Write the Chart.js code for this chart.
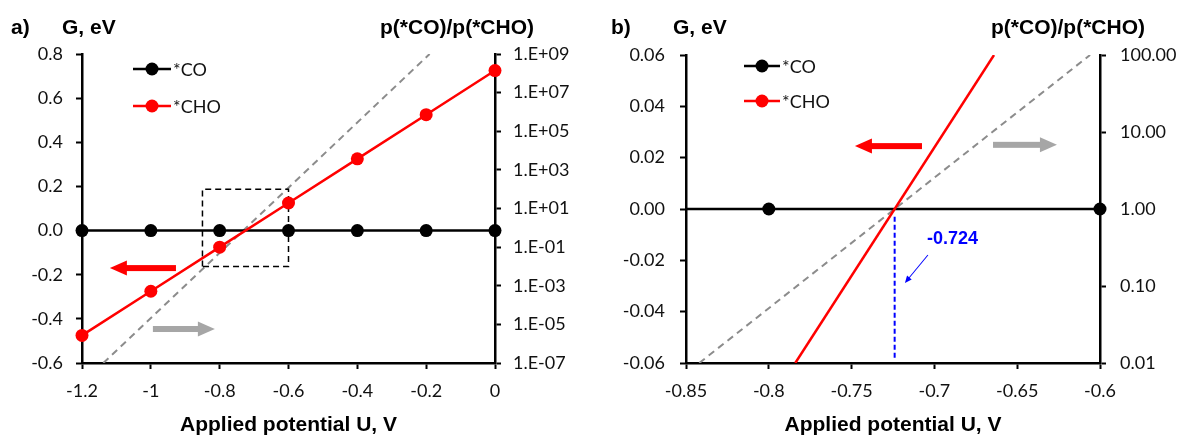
<!DOCTYPE html>
<html>
<head>
<meta charset="utf-8">
<script src="https://cdn.jsdelivr.net/npm/chart.js@4.4.1/dist/chart.umd.min.js"></script>
<style>
  html, body { margin: 0; padding: 0; background: #ffffff; }
  #wrap { display: flex; width: 1180px; height: 436px; }
  canvas { display: block; }
</style>
</head>
<body>
<div id="wrap">
  <canvas id="panelA" width="590" height="436"></canvas>
  <canvas id="panelB" width="590" height="436"></canvas>
</div>
<script>
// ---------- panel a: full potential window ----------
const potentialA = [-1.2, -1.0, -0.8, -0.6, -0.4, -0.2, 0];
const gCO_A = [0, 0, 0, 0, 0, 0, 0];
const gCHO_A = [-0.475, -0.275, -0.075, 0.125, 0.325, 0.525, 0.725];
// population ratio p(*CO)/p(*CHO), straight on the log axis
const ratioPotentialA = [-1.138, -0.19];
const ratioA = [1e-7, 1e9];
// zoomed window shown in panel b (potential range x ratio range)
const boxPotential = [-0.85, -0.85, -0.6, -0.6, -0.85];
const boxRatio = [0.01, 100, 100, 0.01, 0.01];

const xTicksA = [-1.2, -1, -0.8, -0.6, -0.4, -0.2, 0];
const xLabelsA = ['-1.2', '-1', '-0.8', '-0.6', '-0.4', '-0.2', '0'];
const gTicksA = [-0.6, -0.4, -0.2, 0, 0.2, 0.4, 0.6, 0.8];
const gLabelsA = ['-0.6', '-0.4', '-0.2', '0.0', '0.2', '0.4', '0.6', '0.8'];
const ratioTicksA = [1e-7, 1e-5, 1e-3, 1e-1, 1e1, 1e3, 1e5, 1e7, 1e9];
const ratioLabelsA = ['1.E-07', '1.E-05', '1.E-03', '1.E-01', '1.E+01', '1.E+03', '1.E+05', '1.E+07', '1.E+09'];

// ---------- panel b: zoom around the crossing ----------
const potentialB_CO = [-0.85, -0.8, -0.6];
const gCO_B = [0, 0, 0];
const markerB_CO = [0, 1, 1];
const potentialB_CHO = [-0.784, -0.664];
const gCHO_B = [-0.06, 0.06];
const ratioPotentialB = [-0.842, -0.606];
const ratioB = [0.01, 100];
const crossingU = -0.724;
const crossingG = [-0.003, -0.058];

const xTicksB = [-0.85, -0.8, -0.75, -0.7, -0.65, -0.6];
const xLabelsB = ['-0.85', '-0.8', '-0.75', '-0.7', '-0.65', '-0.6'];
const gTicksB = [-0.06, -0.04, -0.02, 0, 0.02, 0.04, 0.06];
const gLabelsB = ['-0.06', '-0.04', '-0.02', '0.00', '0.02', '0.04', '0.06'];
const ratioTicksB = [0.01, 0.1, 1, 10, 100];
const ratioLabelsB = ['0.01', '0.10', '1.00', '10.00', '100.00'];

// ---------- styling ----------
const RED = '#ff0000';
const BLACK = '#000000';
const GREY = '#8c8c8c';
const ARROW_GREY = '#a6a6a6';
const BLUE = '#0000ff';
const TICK_FONT = { family: 'Lato, Carlito, "Liberation Sans", sans-serif', size: 18 };
const TITLE_FONT = 'bold 21px "Liberation Sans", Arial, sans-serif';
const LEGEND_FONT = '18px Lato, Carlito, "Liberation Sans", sans-serif';
const DOT = 6.5;

const pts = (xs, ys) => xs.map((x, i) => ({ x, y: ys[i] }));

function axisCommon(labels, ticks, pad, fitKey, fitVal) {
  return {
    afterBuildTicks: s => { s.ticks = ticks.map(v => ({ value: v })); },
    ticks: {
      callback: (v, i) => labels[i],
      font: TICK_FONT, color: '#111111', padding: pad,
      autoSkip: false, maxRotation: 0, minRotation: 0
    },
    grid: { display: true, drawOnChartArea: false, drawTicks: true, tickLength: 6, tickWidth: 2, color: BLACK },
    border: { display: true, color: BLACK, width: 2.5 },
    afterFit: s => { s[fitKey] = fitVal; }
  };
}

function arrow(ctx, x1, y1, x2, y2, shaft, headLen, headW, color) {
  const ang = Math.atan2(y2 - y1, x2 - x1);
  const len = Math.hypot(x2 - x1, y2 - y1);
  ctx.save();
  ctx.translate(x1, y1);
  ctx.rotate(ang);
  ctx.fillStyle = color;
  ctx.strokeStyle = color;
  if (shaft >= 2) {
    ctx.fillRect(0, -shaft / 2, len - headLen + 1, shaft);
  } else {
    ctx.lineWidth = shaft;
    ctx.beginPath(); ctx.moveTo(0, 0); ctx.lineTo(len - headLen + 1, 0); ctx.stroke();
  }
  ctx.beginPath();
  ctx.moveTo(len, 0);
  ctx.lineTo(len - headLen, -headW / 2);
  ctx.lineTo(len - headLen, headW / 2);
  ctx.closePath();
  ctx.fill();
  ctx.restore();
}

function legendEntry(ctx, x1, x2, y, color, text) {
  ctx.save();
  ctx.strokeStyle = color; ctx.fillStyle = color; ctx.lineWidth = 2.5;
  ctx.beginPath(); ctx.moveTo(x1, y); ctx.lineTo(x2, y); ctx.stroke();
  ctx.beginPath(); ctx.arc((x1 + x2) / 2, y, DOT, 0, Math.PI * 2); ctx.fill();
  ctx.fillStyle = '#111111';
  ctx.font = LEGEND_FONT; ctx.textAlign = 'left'; ctx.textBaseline = 'middle';
  ctx.fillText(text, x2 + 2, y + 1);
  ctx.restore();
}

function titles(chart, tag, gTitleX, ratioTitleX) {
  const ctx = chart.ctx, a = chart.chartArea;
  ctx.save();
  ctx.fillStyle = BLACK; ctx.font = TITLE_FONT; ctx.textBaseline = 'middle';
  ctx.textAlign = 'left';
  ctx.fillText(tag, tag === 'a)' ? 11 : 21, 28);
  ctx.fillText('G, eV', gTitleX, 28);
  ctx.textAlign = 'center';
  ctx.fillText('p(*CO)/p(*CHO)', ratioTitleX, 28);
  ctx.fillText('Applied potential U, V', (a.left + a.right) / 2, 425);
  ctx.restore();
}

// arrow placements in data units (potential, G)
const arrowsA = [
  { from: [-0.927, -0.17], to: [-1.119, -0.17], color: RED },
  { from: [-0.994, -0.446], to: [-0.814, -0.446], color: ARROW_GREY }
];
const arrowsB = [
  { from: [-0.7075, 0.0245], to: [-0.748, 0.0245], color: RED },
  { from: [-0.6646, 0.025], to: [-0.626, 0.025], color: ARROW_GREY }
];

function drawArrows(chart, list) {
  const xs = chart.scales.x, ys = chart.scales.y;
  list.forEach(d => {
    arrow(chart.ctx,
      xs.getPixelForValue(d.from[0]), ys.getPixelForValue(d.from[1]),
      xs.getPixelForValue(d.to[0]), ys.getPixelForValue(d.to[1]),
      6, 17, 15, d.color);
  });
}

const decorA = {
  id: 'decorA',
  afterDraw(chart) {
    const ctx = chart.ctx;
    titles(chart, 'a)', 62, 457);
    legendEntry(ctx, 133, 171, 69, BLACK, '*CO');
    legendEntry(ctx, 133, 171, 106, RED, '*CHO');
    drawArrows(chart, arrowsA);
  }
};

const decorB = {
  id: 'decorB',
  afterDraw(chart) {
    const ctx = chart.ctx, xs = chart.scales.x, ys = chart.scales.y;
    titles(chart, 'b)', 83, 478);
    legendEntry(ctx, 154, 190, 66, BLACK, '*CO');
    legendEntry(ctx, 154, 190, 101, RED, '*CHO');
    drawArrows(chart, arrowsB);
    // crossing potential label with a pointer to the dashed marker
    ctx.save();
    ctx.fillStyle = BLUE;
    ctx.font = 'bold 18px "Liberation Sans", Arial, sans-serif';
    ctx.textAlign = 'left'; ctx.textBaseline = 'middle';
    ctx.fillText(crossingU.toFixed(3), xs.getPixelForValue(-0.7045), ys.getPixelForValue(-0.0117));
    ctx.restore();
    arrow(ctx,
      xs.getPixelForValue(-0.7039), ys.getPixelForValue(-0.0179),
      xs.getPixelForValue(-0.7178), ys.getPixelForValue(-0.0288),
      1, 7, 6, BLUE);
  }
};

function lineSet(label, data, axis, color, width, extra) {
  return Object.assign({
    label, data, yAxisID: axis, showLine: true,
    borderColor: color, backgroundColor: color, borderWidth: width,
    pointRadius: 0, pointBorderWidth: 0, pointHoverRadius: 0, fill: false, tension: 0
  }, extra || {});
}

const baseOptions = (padTop) => ({
  responsive: false, animation: false, devicePixelRatio: 1,
  layout: { padding: { top: padTop, left: 0, right: 0, bottom: 0 } },
  plugins: { legend: { display: false }, tooltip: { enabled: false } },
  events: []
});

function build() {
  // panel a
  const optA = baseOptions(54);
  optA.scales = {
    x: Object.assign({ type: 'linear', position: 'bottom', min: -1.2, max: 0 },
      axisCommon(xLabelsA, xTicksA, 11, 'height', 73)),
    y: Object.assign({ type: 'linear', position: 'left', min: -0.6, max: 0.8 },
      axisCommon(gLabelsA, gTicksA, 13, 'width', 82)),
    y2: Object.assign({ type: 'logarithmic', position: 'right', min: 1e-7, max: 1e9 },
      axisCommon(ratioLabelsA, ratioTicksA, 12, 'width', 95))
  };
  new Chart(document.getElementById('panelA'), {
    type: 'scatter',
    data: {
      datasets: [
        lineSet('*CHO', pts(potentialA, gCHO_A), 'y', RED, 2.5, { pointRadius: DOT, order: 0, clip: false }),
        lineSet('*CO', pts(potentialA, gCO_A), 'y', BLACK, 2.5, { pointRadius: DOT, order: 1, clip: false }),
        lineSet('window', pts(boxPotential, boxRatio), 'y2', BLACK, 1.5, { borderDash: [6, 4], order: 2 }),
        lineSet('ratio', pts(ratioPotentialA, ratioA), 'y2', GREY, 2, { borderDash: [7, 5], order: 3 })
      ]
    },
    options: optA,
    plugins: [decorA]
  });

  // panel b
  const optB = baseOptions(55);
  optB.scales = {
    x: Object.assign({ type: 'linear', position: 'bottom', min: -0.85, max: -0.6 },
      axisCommon(xLabelsB, xTicksB, 11, 'height', 73)),
    y: Object.assign({ type: 'linear', position: 'left', min: -0.06, max: 0.06 },
      axisCommon(gLabelsB, gTicksB, 15, 'width', 96)),
    y2: Object.assign({ type: 'logarithmic', position: 'right', min: 0.01, max: 100 },
      axisCommon(ratioLabelsB, ratioTicksB, 14, 'width', 80))
  };
  new Chart(document.getElementById('panelB'), {
    type: 'scatter',
    data: {
      datasets: [
        lineSet('*CHO', pts(potentialB_CHO, gCHO_B), 'y', RED, 2.5, { order: 0 }),
        lineSet('*CO', pts(potentialB_CO, gCO_B), 'y', BLACK, 2.5,
          { pointRadius: markerB_CO.map(m => m * DOT), order: 1, clip: false }),
        lineSet('crossing', pts([crossingU, crossingU], crossingG), 'y', BLUE, 2, { borderDash: [5, 3], order: 2 }),
        lineSet('ratio', pts(ratioPotentialB, ratioB), 'y2', GREY, 2, { borderDash: [7, 5], order: 3 })
      ]
    },
    options: optB,
    plugins: [decorB]
  });
}

if (document.fonts && document.fonts.load) {
  Promise.all([
    document.fonts.load('18px Lato'),
    document.fonts.load('bold 21px "Liberation Sans"')
  ]).then(build, build);
} else {
  build();
}
</script>
</body>
</html>
